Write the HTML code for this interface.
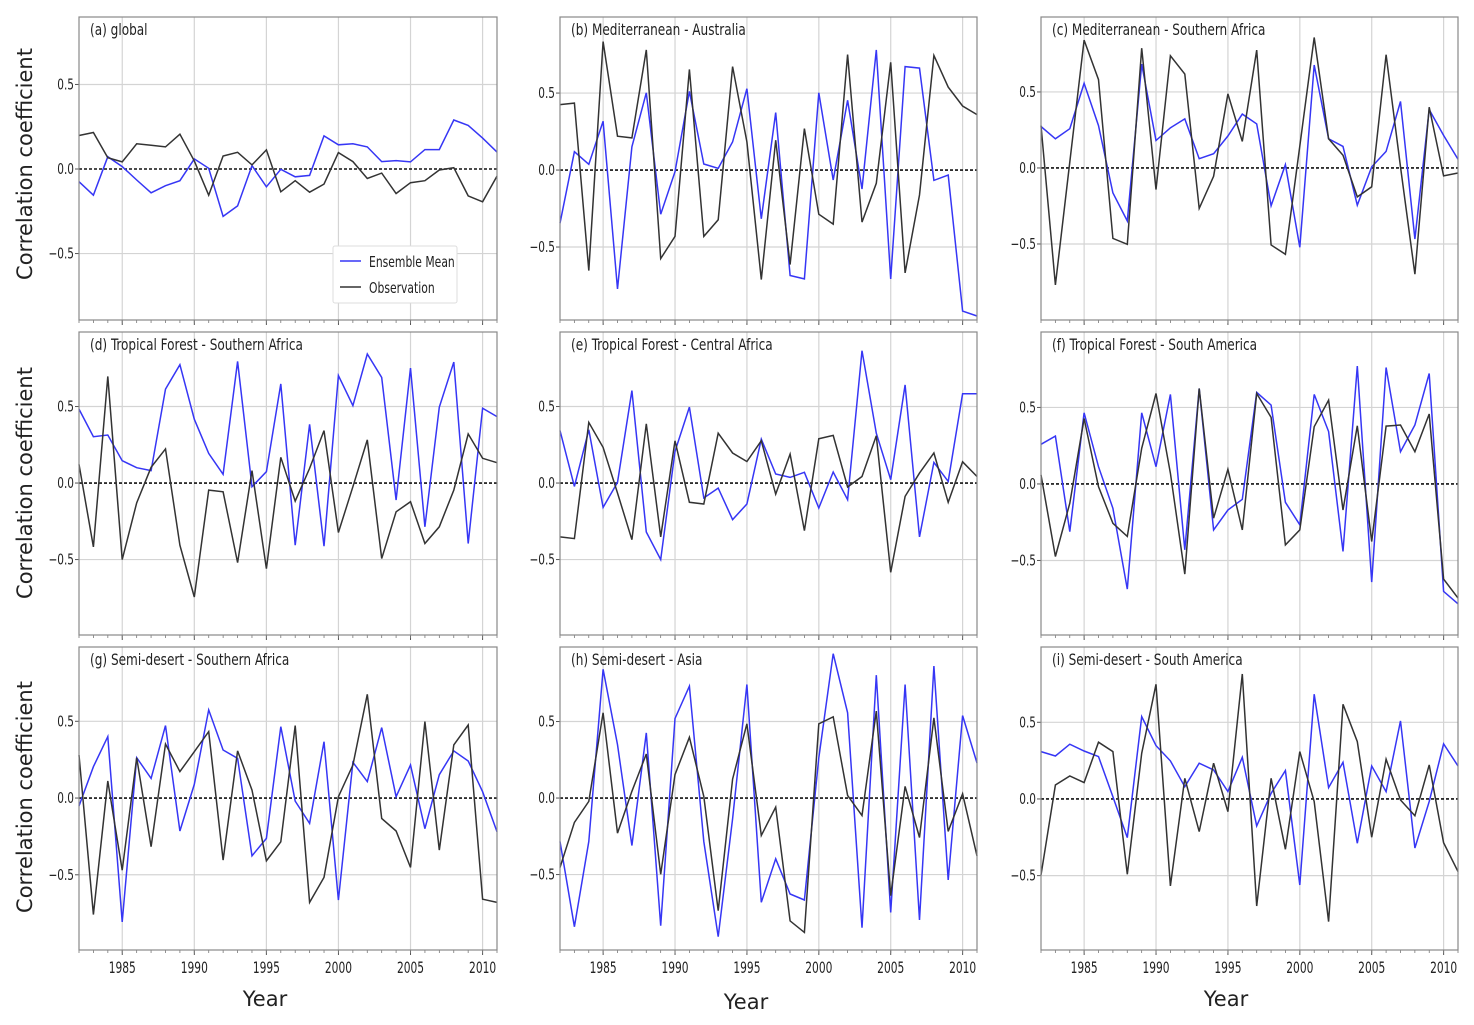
<!DOCTYPE html>
<html><head><meta charset="utf-8"><style>
html,body{margin:0;padding:0;background:#fff;}
svg{display:block;}
text{font-family:"DejaVu Sans Condensed","DejaVu Sans","Liberation Sans",sans-serif;fill:#222;}
</style></head><body>
<svg id="fig" width="1474" height="1025" viewBox="0 0 1474 1025" xmlns="http://www.w3.org/2000/svg"></svg>
<script>
const years = [1982,1983,1984,1985,1986,1987,1988,1989,1990,1991,1992,1993,1994,1995,1996,1997,1998,1999,2000,2001,2002,2003,2004,2005,2006,2007,2008,2009,2010,2011];
const xTickLabels = [1985,1990,1995,2000,2005,2010];
const yTickLabels = [-0.5,0,0.5];
const panelTitles = ["(a) global","(b) Mediterranean - Australia","(c) Mediterranean - Southern Africa","(d) Tropical Forest - Southern Africa","(e) Tropical Forest - Central Africa","(f) Tropical Forest - South America","(g) Semi-desert - Southern Africa","(h) Semi-desert - Asia","(i) Semi-desert - South America"];
const ensA = [-0.075,-0.155,0.073,0.014,-0.065,-0.141,-0.099,-0.069,0.06,0.004,-0.28,-0.218,0.02,-0.105,-0.002,-0.046,-0.038,0.196,0.143,0.149,0.131,0.044,0.05,0.042,0.115,0.115,0.29,0.258,0.183,0.1];
const obsA = [0.198,0.216,0.067,0.042,0.149,0.141,0.131,0.206,0.048,-0.155,0.077,0.099,0.024,0.113,-0.135,-0.069,-0.137,-0.089,0.097,0.044,-0.056,-0.024,-0.145,-0.081,-0.069,-0.006,0.008,-0.159,-0.194,-0.042];
const ensB = [-0.345,0.119,0.037,0.317,-0.772,0.151,0.502,-0.287,-0.011,0.511,0.039,0.011,0.183,0.528,-0.317,0.373,-0.685,-0.707,0.502,-0.065,0.453,-0.123,0.78,-0.707,0.672,0.662,-0.067,-0.032,-0.916,-0.948];
const obsB = [0.425,0.435,-0.653,0.834,0.22,0.209,0.78,-0.575,-0.431,0.653,-0.431,-0.323,0.672,0.183,-0.711,0.194,-0.614,0.269,-0.287,-0.351,0.75,-0.338,-0.086,0.7,-0.668,-0.162,0.744,0.539,0.416,0.36];
const ensC = [0.273,0.192,0.258,0.557,0.279,-0.164,-0.349,0.683,0.181,0.264,0.323,0.061,0.094,0.21,0.354,0.29,-0.249,0.022,-0.522,0.677,0.192,0.142,-0.245,0.007,0.109,0.437,-0.467,0.384,0.214,0.057];
const obsC = [0.279,-0.769,0.039,0.841,0.581,-0.463,-0.502,0.788,-0.142,0.738,0.618,-0.266,-0.055,0.487,0.175,0.775,-0.507,-0.568,0.144,0.858,0.192,0.083,-0.19,-0.124,0.745,0.007,-0.699,0.4,-0.052,-0.033];
const ensD = [0.483,0.303,0.314,0.146,0.1,0.081,0.614,0.773,0.417,0.194,0.057,0.795,-0.024,0.074,0.648,-0.406,0.384,-0.413,0.703,0.506,0.843,0.69,-0.111,0.751,-0.286,0.496,0.79,-0.395,0.489,0.434];
const obsD = [0.122,-0.417,0.697,-0.5,-0.129,0.103,0.223,-0.406,-0.745,-0.046,-0.057,-0.52,0.081,-0.559,0.168,-0.118,0.096,0.343,-0.323,-0.024,0.282,-0.493,-0.188,-0.122,-0.395,-0.286,-0.046,0.321,0.162,0.133];
const ensE = [0.343,-0.022,0.348,-0.159,0.004,0.604,-0.32,-0.5,0.207,0.496,-0.098,-0.033,-0.239,-0.137,0.287,0.059,0.037,0.07,-0.163,0.072,-0.109,0.865,0.326,0.022,0.641,-0.352,0.135,0.011,0.583,0.583];
const obsE = [-0.352,-0.363,0.396,0.233,-0.065,-0.37,0.387,-0.352,0.276,-0.126,-0.137,0.326,0.196,0.141,0.276,-0.072,0.189,-0.311,0.289,0.311,-0.026,0.043,0.309,-0.583,-0.087,0.065,0.196,-0.126,0.139,0.043];
const ensF = [0.259,0.313,-0.311,0.465,0.113,-0.159,-0.687,0.465,0.113,0.585,-0.43,0.624,-0.3,-0.17,-0.1,0.598,0.515,-0.12,-0.267,0.585,0.343,-0.441,0.77,-0.641,0.761,0.211,0.385,0.722,-0.702,-0.783];
const obsF = [0.059,-0.474,-0.126,0.428,-0.017,-0.257,-0.343,0.233,0.591,0.07,-0.589,0.624,-0.224,0.096,-0.3,0.591,0.435,-0.398,-0.3,0.374,0.548,-0.17,0.38,-0.376,0.378,0.385,0.211,0.457,-0.622,-0.746];
const ensG = [-0.052,0.204,0.4,-0.807,0.263,0.128,0.472,-0.215,0.089,0.574,0.313,0.259,-0.376,-0.263,0.465,-0.02,-0.165,0.367,-0.665,0.233,0.107,0.459,0.009,0.215,-0.2,0.152,0.307,0.241,0.041,-0.22];
const obsG = [0.28,-0.759,0.111,-0.47,0.263,-0.317,0.352,0.172,0.302,0.433,-0.404,0.307,0.052,-0.409,-0.285,0.472,-0.68,-0.517,0.009,0.215,0.676,-0.133,-0.215,-0.452,0.498,-0.339,0.346,0.476,-0.659,-0.68];
const ensH = [-0.284,-0.841,-0.284,0.841,0.349,-0.31,0.426,-0.834,0.52,0.731,-0.284,-0.906,-0.135,0.742,-0.681,-0.397,-0.627,-0.666,0.262,0.943,0.557,-0.847,0.803,-0.747,0.742,-0.797,0.862,-0.535,0.539,0.229];
const obsH = [-0.454,-0.159,-0.022,0.557,-0.229,0.044,0.288,-0.498,0.153,0.397,0.011,-0.736,0.124,0.485,-0.245,-0.059,-0.803,-0.878,0.485,0.531,0.017,-0.114,0.568,-0.638,0.076,-0.258,0.524,-0.218,0.028,-0.378];
const ensI = [0.309,0.28,0.357,0.313,0.276,0.015,-0.252,0.537,0.348,0.248,0.08,0.233,0.189,0.048,0.272,-0.176,0.037,0.185,-0.561,0.683,0.074,0.239,-0.289,0.215,0.048,0.509,-0.32,-0.017,0.359,0.215];
const obsI = [-0.496,0.091,0.15,0.107,0.37,0.309,-0.491,0.298,0.748,-0.567,0.135,-0.213,0.233,-0.083,0.815,-0.698,0.135,-0.328,0.309,-0.017,-0.8,0.617,0.374,-0.25,0.259,-0.007,-0.109,0.222,-0.285,-0.474];
const ensSeries = [ensA,ensB,ensC,ensD,ensE,ensF,ensG,ensH,ensI];
const obsSeries = [obsA,obsB,obsC,obsD,obsE,obsF,obsG,obsH,obsI];

const NS="http://www.w3.org/2000/svg";
const svg=document.getElementById('fig');
function mk(tag,attrs,parent,txt){const e=document.createElementNS(NS,tag);for(const k in attrs)e.setAttribute(k,attrs[k]);if(txt!==undefined)e.textContent=txt;(parent||svg).appendChild(e);return e;}
function ctext(x,y,sx,attrs,parent,txt){const a=Object.assign({x:0,y:0,transform:'translate('+x+','+y+') scale('+sx+',1)'},attrs);return mk('text',a,parent,txt);}

const colX=[[79,497],[560,977],[1041,1458]];
const rowY=[[17,320],[332,635],[647,950]];
const yDom=[[-0.893,0.899],[-0.974,0.994],[-1.0,0.993],[-0.993,0.987],[-0.993,0.987],[-0.987,0.993],[-0.99,0.984],[-0.993,0.987],[-0.985,0.991]];
const X0=1982, X1=2011;

for(let p=0;p<9;p++){
  const c=p%3, r=Math.floor(p/3);
  const [L,R]=colX[c], [T,B]=rowY[r];
  const [ymin,ymax]=yDom[p];
  const xs=v=>L+(v-X0)/(X1-X0)*(R-L);
  const ys=v=>B-(v-ymin)/(ymax-ymin)*(B-T);
  const g=mk('g',{});
  
  
  mk('rect',{x:L,y:T,width:R-L,height:B-T,fill:'#fff',stroke:'none'},g);
  xTickLabels.forEach(t=>{
    const l=mk('line',{x1:xs(t),x2:xs(t),y1:T,y2:B,stroke:'#d4d4d4','stroke-width':1.2},g);
    
    if(r===2){
      const tl=ctext(xs(t),B+23,0.74,{'text-anchor':'middle','font-size':16},g,String(t));
      
    }
    mk('line',{x1:xs(t),x2:xs(t),y1:B,y2:B+5,stroke:'#555','stroke-width':1},g);
  });
  years.forEach(yv=>{mk('line',{x1:xs(yv),x2:xs(yv),y1:B,y2:B+3,stroke:'#777','stroke-width':0.8},g);});
  yTickLabels.forEach(t=>{
    if(t!==0){const l=mk('line',{x1:L,x2:R,y1:ys(t),y2:ys(t),stroke:'#d4d4d4','stroke-width':1.2},g);
      }
    mk('line',{x1:L-4,x2:L,y1:ys(t),y2:ys(t),stroke:'#555','stroke-width':1},g);
    const tl=ctext(L-5,ys(t)+5,0.78,{'text-anchor':'end','font-size':15},g,t===0?'0.0':t.toFixed(1).replace('-','\u2212'));
    
  });
  const z=mk('line',{x1:L,x2:R,y1:ys(0),y2:ys(0),stroke:'#111','stroke-width':1.6,'stroke-dasharray':'3,2'},g);
  
  const pe=ensSeries[p].map((v,i)=>xs(years[i]).toFixed(1)+','+ys(v).toFixed(1)).join(' ');
  const po=obsSeries[p].map((v,i)=>xs(years[i]).toFixed(1)+','+ys(v).toFixed(1)).join(' ');
  const le=mk('polyline',{points:pe,fill:'none',stroke:'#3636f5','stroke-width':1.5},g);
  
  const lo=mk('polyline',{points:po,fill:'none',stroke:'#333','stroke-width':1.5},g);
  
  mk('rect',{x:L,y:T,width:R-L,height:B-T,fill:'none',stroke:'#888','stroke-width':1.2},g);
  const tt=ctext(L+11,T+18,0.84,{'font-size':16},g,panelTitles[p]);
  
}
const lg=mk('g',{});


mk('rect',{x:333,y:246,width:124,height:57,fill:'#fff',stroke:'#ddd','stroke-width':1,rx:2},lg);
mk('line',{x1:340,x2:361,y1:261,y2:261,stroke:'#3636f5','stroke-width':1.5},lg);
mk('line',{x1:340,x2:361,y1:287,y2:287,stroke:'#333','stroke-width':1.5},lg);
const t1=ctext(369,267,0.8,{'font-size':15},lg,'Ensemble Mean');

const t2=ctext(369,293,0.8,{'font-size':15},lg,'Observation');

[164,483,797].forEach(cy=>{
  const t=mk('text',{x:0,y:0,'font-size':21,'text-anchor':'middle',transform:'translate(32,'+cy+') rotate(-90)',style:'font-family:"DejaVu Sans","Liberation Sans",sans-serif'},svg,'Correlation coefficient');
  
});
[[265,1006],[746,1009],[1226,1006]].forEach(([x,y])=>{
  const t=mk('text',{x:x,y:y,'font-size':21,'text-anchor':'middle',style:'font-family:"DejaVu Sans","Liberation Sans",sans-serif'},svg,'Year');
  
});
</script>
</body></html>
